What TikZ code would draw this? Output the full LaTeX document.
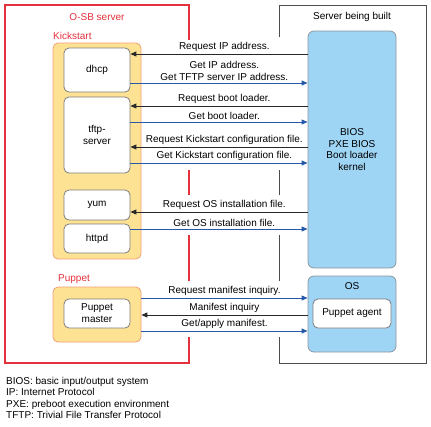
\documentclass[tikz,border=0pt]{standalone}
\usepackage{fontspec}
\setmainfont{Liberation Sans}
\usetikzlibrary{arrows.meta,calc}
\definecolor{osbred}{RGB}{228,48,58}
\definecolor{ksfill}{RGB}{253,226,148}
\definecolor{ksedge}{RGB}{242,160,118}
\definecolor{hostfill}{RGB}{158,212,244}
\definecolor{hostedge}{RGB}{140,150,160}
\definecolor{svcedge}{RGB}{125,125,125}
\definecolor{reqcol}{RGB}{40,40,40}
\definecolor{repcol}{RGB}{38,88,168}
\tikzset{grp/.style={draw=ksedge,fill=ksfill,rounded corners=5pt,line width=0.8pt,inner sep=0pt,minimum width=88pt},
  svc/.style={draw=svcedge,fill=white,rounded corners=5pt,line width=0.8pt,inner sep=0pt,minimum width=66pt,align=center},
  host/.style={draw=hostedge,fill=hostfill,rounded corners=6pt,line width=0.8pt,inner sep=0pt,minimum width=88pt,align=center},
  req/.style={draw=reqcol,line width=0.9pt,-{Triangle[length=6pt,width=5pt]}},
  rep/.style={draw=repcol,line width=0.9pt,-{Triangle[length=6pt,width=5pt]}},
  msg/.style={anchor=south,inner sep=1.5pt,align=center,text=black},
  grptitle/.style={text=osbred,inner sep=0pt,anchor=west}}
\begin{document}
\begin{tikzpicture}[x=1pt,y=-1pt,font=\fontsize{10}{12}\selectfont]
  \useasboundingbox (0,0) rectangle (431,426);
  % frames, open where the messages cross
  \draw[osbred,line width=1.1pt] (189,40) -- (189,5) -- (5,5) -- (5,363) -- (189,363) -- (189,337)
    (189,281) -- (189,235) (189,195) -- (189,170);
  \draw[black!70,line width=1pt] (279,37) -- (279,5) -- (426,5) -- (426,363) -- (279,363) -- (279,337)
    (279,281) -- (279,235) (279,195) -- (279,170);
  \node[text=osbred] (osb) at (97,17) {O-SB server};
  \node (built) at (352,17) {Server being built};
  % O-SB side
  \node[grptitle] (kstitle) at (53,36) {Kickstart};
  \node[grp,minimum height=216pt] (ks) at (97,151) {};
  \node[svc,minimum height=44pt] (dhcp) at (97,70) {dhcp};
  \node[svc,minimum height=76pt] (tftp) at (97,135) {tftp-\\[0.5pt]server};
  \node[svc,minimum height=30pt] (yum) at (97,205) {yum};
  \node[svc,minimum height=29pt] (httpd) at (97,238.5) {httpd};
  \node[grptitle] (puptitle) at (58,279) {Puppet};
  \node[grp,minimum height=55pt] (pup) at (97,314.5) {};
  \node[svc,minimum height=29pt] (pmaster) at (97,313.5) {Puppet\\master};
  % server being built
  \node[host,minimum height=237pt] (bios) at (352,149.5) {BIOS\\[-0.6pt]PXE BIOS\\[-0.6pt]Boot loader\\[-0.6pt]kernel};
  \node[host,minimum height=76pt] (os) at (352,314) {};
  \node[below=3pt] (ostitle) at (os.north) {OS};
  \node[svc,minimum width=78pt,minimum height=29pt] (agent) at (352,313.5) {Puppet agent};
  % messages
  \draw[req] (bios.west |- 0,54) -- node[msg,pos=.47] {Request IP address.} (dhcp.east |- 0,54);
  \draw[rep] (dhcp.east |- 0,83) -- node[msg,pos=.53] {Get IP address.\\Get TFTP server IP address.} (bios.west |- 0,83);
  \draw[req] (bios.west |- 0,106) -- node[msg,pos=.47] {Request boot loader.} (tftp.east |- 0,106);
  \draw[rep] (tftp.east |- 0,122) -- node[msg,pos=.53] {Get boot loader.} (bios.west |- 0,122);
  \draw[req] (bios.west |- 0,147) -- node[msg,pos=.47] {Request Kickstart configuration file.} (tftp.east |- 0,147);
  \draw[rep] (tftp.east |- 0,163) -- node[msg,pos=.53] {Get Kickstart configuration file.} (bios.west |- 0,163);
  \draw[req] (bios.west |- 0,212) -- node[msg,pos=.47] {Request OS installation file.} (yum.east |- 0,212);
  \draw[rep] (httpd.east |- 0,229) -- node[msg,pos=.53] {Get OS installation file.} (bios.west |- 0,229);
  \draw[rep] (pup.east |- 0,298) -- node[msg] {Request manifest inquiry.} (os.west |- 0,298);
  \draw[req] (os.west |- 0,315) -- node[msg] {Manifest inquiry} (pup.east |- 0,315);
  \draw[rep] (pup.east |- 0,331) -- node[msg] {Get/apply manifest.} (os.west |- 0,331);
  % abbreviations
  \node[anchor=north west,align=left,inner sep=0pt,font=\fontsize{10}{11.4}\selectfont] (legend) at (6,377)
    {BIOS: basic input/output system\\IP: Internet Protocol\\PXE: preboot execution environment\\TFTP: Trivial File Transfer Protocol};
\end{tikzpicture}
\end{document}
